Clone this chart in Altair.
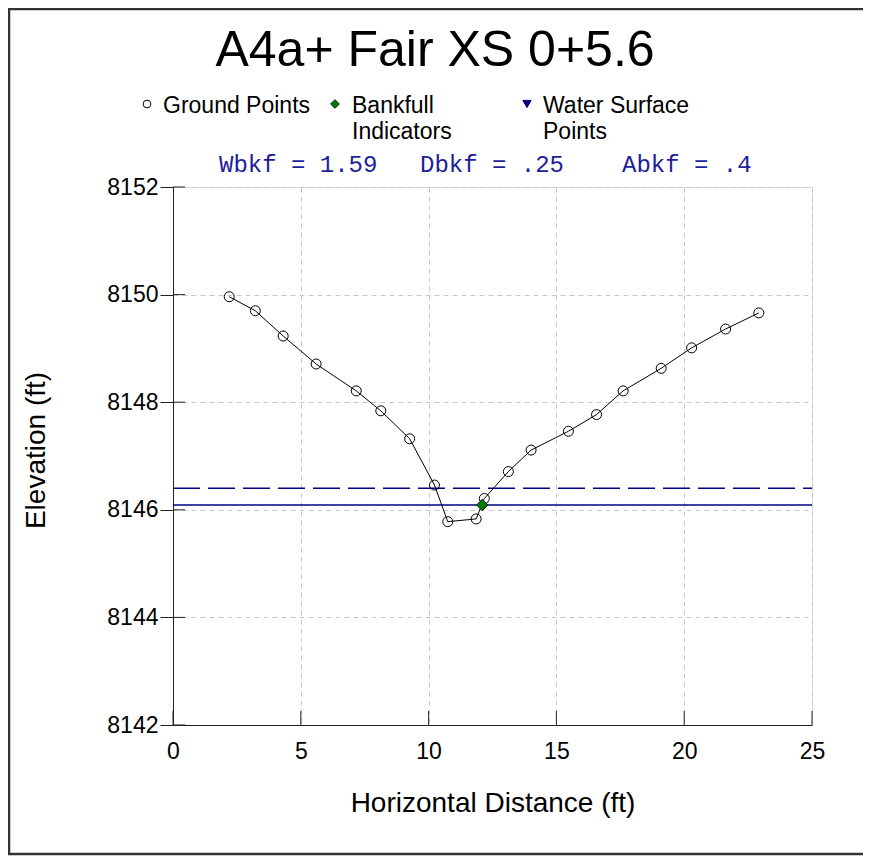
import altair as alt
import pandas as pd

# ---------------- data ----------------
ground_x = [2.20, 3.22, 4.31, 5.60, 7.17, 8.13, 9.26, 10.23, 10.75, 11.86,
            12.18, 13.12, 14.01, 15.47, 16.57, 17.61, 19.10, 20.29, 21.62, 22.92]
ground_y = [8149.96, 8149.70, 8149.23, 8148.71, 8148.21, 8147.84, 8147.32, 8146.46, 8145.78, 8145.83,
            8146.21, 8146.71, 8147.11, 8147.46, 8147.77, 8148.21, 8148.63, 8149.01, 8149.36, 8149.66]
bankfull_x = [12.10]
bankfull_y = [8146.09]
bankfull_elev = [8146.09]
floodprone_elev = [8146.40]
line_x_start = [0]
line_x_end = [25]
x_ticks = [0, 5, 10, 15, 20, 25]
y_ticks = [8142, 8144, 8146, 8148, 8150, 8152]
title_text = "A4a+ Fair XS 0+5.6"
legend_labels = ["Ground Points", "Bankfull\nIndicators", "Water Surface\nPoints"]
stats_labels = ["Wbkf", "Dbkf", "Abkf"]
stats_values = ["1.59", ".25", ".4"]
x_title = "Horizontal Distance (ft)"
y_title = "Elevation (ft)"

# ---------------- styling ----------------
FONT = "Liberation Sans"
MONO = "Liberation Mono"
NAVY = "#000080"
TEXT_BLUE = "#1e1e9a"
GREEN = "#007a00"
AXIS = "#222222"
W, H = 639, 538

xs = alt.Scale(domain=[0, 25], nice=False, zero=False)
ys = alt.Scale(domain=[8142, 8152], nice=False, zero=False)

x_axis = alt.Axis(values=x_ticks, title=x_title, tickSize=0, labelPadding=15, labelFlush=False,
                  labelFontSize=23, titleFontSize=28, titleFontWeight="normal",
                  titleY=86, titleBaseline="alphabetic",
                  grid=True, gridDash=[5, 4], gridColor="#c8c8c8",
                  domainColor=AXIS, labelColor="black", titleColor="black",
                  labelFont=FONT, titleFont=FONT)
y_axis = alt.Axis(values=y_ticks, format="d", title=y_title, tickSize=13, labelPadding=2,
                  labelFlush=False,
                  tickColor=AXIS, labelFontSize=23, titleFontSize=28, titleFontWeight="normal",
                  titleX=-129, titleY=263, titleAngle=270, titleBaseline="alphabetic",
                  titleAlign="center",
                  grid=True, gridDash=[5, 4], gridColor="#c8c8c8",
                  domainColor=AXIS, labelColor="black", titleColor="black",
                  labelFont=FONT, titleFont=FONT)


def X(field):
    return alt.X(field, type="quantitative", scale=xs, axis=x_axis)


def Y(field):
    return alt.Y(field, type="quantitative", scale=ys, axis=y_axis)


ground = pd.DataFrame({"x": ground_x, "y": ground_y})
bank = pd.DataFrame({"x": bankfull_x, "y": bankfull_y})
one = pd.DataFrame({"d": [0]})

base = alt.Chart(ground)
gline = base.mark_line(color="black", strokeWidth=1).encode(x=X("x"), y=Y("y"))
gpts = base.mark_point(shape="circle", filled=False, color="black", size=100,
                       strokeWidth=1, opacity=1).encode(x=X("x"), y=Y("y"))

bk_df = pd.DataFrame({"x1": line_x_start, "x2": line_x_end, "y": bankfull_elev})
fp_df = pd.DataFrame({"x1": line_x_start, "x2": line_x_end, "y": floodprone_elev})

bk_line = alt.Chart(bk_df).mark_rule(color=NAVY, strokeWidth=1.6).encode(
    x=X("x1"), x2="x2:Q", y=Y("y"))
fp_line = alt.Chart(fp_df).mark_rule(color=NAVY, strokeWidth=1.6, strokeDash=[27, 8]).encode(
    x=X("x1"), x2="x2:Q", y=Y("y"))

bk_pt = alt.Chart(bank).mark_point(shape="diamond", filled=True, fill=GREEN, stroke="#002200",
                                   strokeWidth=1, size=130, opacity=1).encode(x=X("x"), y=Y("y"))

# inward tick marks
ytick_in = alt.Chart(pd.DataFrame({"v": y_ticks})).mark_rule(color=AXIS, strokeWidth=1).encode(
    y=Y("v"), x=alt.value(0), x2=alt.value(12))
xtick_in = alt.Chart(pd.DataFrame({"v": x_ticks})).mark_rule(color=AXIS, strokeWidth=1).encode(
    x=X("v"), y=alt.value(H - 14), y2=alt.value(H))

# title
title = alt.Chart(pd.DataFrame({"t": [title_text]})).mark_text(
    font=FONT, fontSize=50, align="center", baseline="alphabetic", color="black"
).encode(text="t:N", x=alt.value(262), y=alt.value(-121))


# legend
def leg_text(label, x):
    return alt.Chart(pd.DataFrame({"t": [label]})).mark_text(
        font=FONT, fontSize=23, align="left", baseline="alphabetic", color="black",
        lineBreak="\n", lineHeight=26
    ).encode(text="t:N", x=alt.value(x), y=alt.value(-74))


def leg_sym(shape, x, fill, stroke, filled, size):
    kw = dict(shape=shape, filled=filled, size=size, strokeWidth=1, opacity=1)
    if filled:
        kw.update(fill=fill, stroke=stroke)
    else:
        kw.update(color=stroke)
    return alt.Chart(one).mark_point(**kw).encode(x=alt.value(x), y=alt.value(-83))


legend = [
    leg_sym("circle", -26, None, "black", False, 60),
    leg_text(legend_labels[0], -10),
    leg_sym("diamond", 162, GREEN, "#002200", True, 75),
    leg_text(legend_labels[1], 179),
    leg_sym("triangle-down", 354, NAVY, NAVY, True, 70),
    leg_text(legend_labels[2], 370),
]

# stats line
stats_x = [46, 247, 449]
stats = [
    alt.Chart(pd.DataFrame({"t": [f"{lab} = {val}"]})).mark_text(
        font=MONO, fontSize=24, align="left", baseline="alphabetic", color=TEXT_BLUE
    ).encode(text="t:N", x=alt.value(sx), y=alt.value(-15))
    for lab, val, sx in zip(stats_labels, stats_values, stats_x)
]

# outer frame (left, top, bottom edges)
FR = dict(color="#333333", strokeWidth=2.5)
frame = [
    alt.Chart(one).mark_rule(**FR).encode(x=alt.value(-164), y=alt.value(-178), y2=alt.value(667)),
    alt.Chart(one).mark_rule(**FR).encode(x=alt.value(-165), x2=alt.value(690), y=alt.value(-178)),
    alt.Chart(one).mark_rule(**FR).encode(x=alt.value(-165), x2=alt.value(690), y=alt.value(667)),
]

chart = alt.layer(
    gline, fp_line, bk_line, gpts, bk_pt, ytick_in, xtick_in, title, *legend, *stats, *frame
).properties(
    width=W, height=H,
    autosize=alt.AutoSizeParams(type="none"),
    padding={"left": 165, "top": 179, "right": 51, "bottom": 133},
).configure_view(strokeWidth=0).configure(font=FONT)

chart.save("out.html", embed_options={"renderer": "svg", "actions": False})
